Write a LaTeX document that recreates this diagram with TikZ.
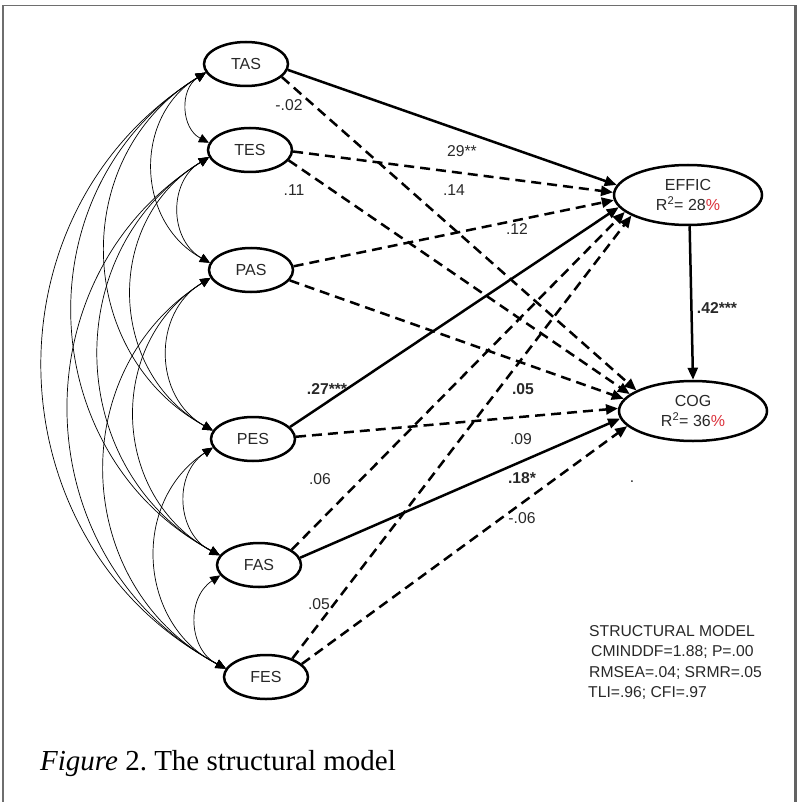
\documentclass[tikz,border=0pt]{standalone}
\usepackage{fontspec}
\setmainfont{Liberation Serif}
\newfontfamily\arialf{Liberation Sans}
\usetikzlibrary{arrows.meta,shapes.geometric}
\definecolor{txt}{RGB}{40,40,40}
\definecolor{pct}{RGB}{220,50,60}
\definecolor{framec}{RGB}{110,110,110}
\begin{document}
\begin{tikzpicture}[x=1pt,y=-1pt,
 lat/.style={ellipse, draw, line width=2.5pt, minimum width=84pt, minimum height=44pt, inner sep=0pt, font=\arialf\fontsize{16}{18}\selectfont, text=txt, fill=white},
 endo/.style={lat, minimum width=148pt, minimum height=60pt, align=center, font=\arialf\fontsize{16}{20}\selectfont},
 cov/.style={{Triangle[length=10pt,width=9pt]}-{Triangle[length=10pt,width=9pt]}, line width=0.7pt, bend right=60, looseness=1.14},
 pathsolid/.style={-{Triangle[length=12pt,width=10pt]}, line width=2.5pt},
 pathdash/.style={pathsolid, dash pattern=on 10pt off 6pt},
 lbl/.style={font=\arialf\fontsize{15.7}{18}\selectfont, text=txt, inner sep=0pt},
 blbl/.style={lbl, font=\arialf\bfseries\fontsize{15.7}{18}\selectfont},
 stat/.style={lbl, anchor=base west},
]
\useasboundingbox (0,0) rectangle (798,802);
% frame
\draw[framec, line width=1.2pt] (3,802) -- (3,5.5) -- (796,5.5);
\draw[framec!90!black, line width=3pt] (795,5.5) -- (795,802);

% latent variables
\node[lat] (TAS) at (246,64) {TAS};
\node[lat] (TES) at (250,150) {TES};
\node[lat] (PAS) at (251,270) {PAS};
\node[lat] (PES) at (253,439) {PES};
\node[lat] (FAS) at (259,565) {FAS};
\node[lat] (FES) at (266,677) {FES};
\node[endo] (EFFIC) at (688,195) {EFFIC\\R\textsuperscript{2}= 28\textcolor{pct}{\%}};
\node[endo] (COG) at (693,411) {COG\\R\textsuperscript{2}= 36\textcolor{pct}{\%}};

% covariances
\draw[cov] (TAS.192) to (TES.170);
\draw[cov] (TES.190) to (PAS.170);
\draw[cov] (PAS.191) to (PES.168);
\draw[cov] (PES.192) to (FAS.166);
\draw[cov] (FAS.195) to (FES.168);
\draw[cov] (TAS.192) to (PAS.170);
\draw[cov] (TES.190) to (PES.168);
\draw[cov] (PAS.191) to (FAS.166);
\draw[cov] (PES.192) to (FES.168);
\draw[cov] (TAS.192) to (PES.168);
\draw[cov] (TES.190) to (FAS.166);
\draw[cov] (PAS.191) to (FES.168);
\draw[cov] (TAS.192) to (FAS.166);
\draw[cov] (TES.190) to (FES.168);
\draw[cov] (TAS.192) to (FES.168);

% structural paths
\draw[pathsolid] (TAS.352) -- (EFFIC.172);
\draw[pathdash] (TAS.340) -- (COG.160);
\draw[pathdash] (TES.358) -- (EFFIC.178);
\draw[pathdash] (TES.345) -- (COG.165);
\draw[pathdash] (PAS.5) -- (EFFIC.184);
\draw[pathdash] (PAS.345) -- (COG.170);
\draw[pathsolid] (PES.18) -- (EFFIC.190);
\draw[pathdash] (PES.3) -- (COG.178);
\draw[pathdash] (FAS.25) -- (EFFIC.195);
\draw[pathsolid] (FAS.10) -- (COG.186);
\draw[pathdash] (FES.35) -- (EFFIC.200);
\draw[pathdash] (FES.20) -- (COG.193);
\draw[pathsolid] (EFFIC.273) -- (COG.90);

% coefficient labels
\node[lbl] (l1) at (289,105) {-.02};
\node[lbl] (l2) at (462,151) {29**};
\node[lbl] (l3) at (294,190) {.11};
\node[lbl] (l4) at (454,190) {.14};
\node[lbl] (l5) at (517,229) {.12};
\node[blbl] (l6) at (717,308) {.42***};
\node[blbl] (l7) at (327,389) {.27***};
\node[blbl] (l8) at (523,389) {.05};
\node[lbl] (l9) at (521,439) {.09};
\node[lbl] (l10) at (320,479) {.06};
\node[blbl] (l11) at (522,478) {.18*};
\node[lbl] (l12) at (632,482) {.};
\node[lbl] (l13) at (522,518) {-.06};
\node[lbl] (l14) at (319,604) {.05};

% fit statistics
\node[stat] (s1) at (589,636) {STRUCTURAL MODEL};
\node[stat] (s2) at (591,656) {CMINDDF=1.88; P=.00};
\node[stat] (s3) at (589,677) {RMSEA=.04; SRMR=.05};
\node[stat] (s4) at (588,697) {TLI=.96; CFI=.97};

% caption
\node[anchor=base west, inner sep=0pt, font=\fontsize{29}{34}\selectfont] (cap) at (40,770) {\textit{Figure} 2.\ The structural model};
\end{tikzpicture}
\end{document}
